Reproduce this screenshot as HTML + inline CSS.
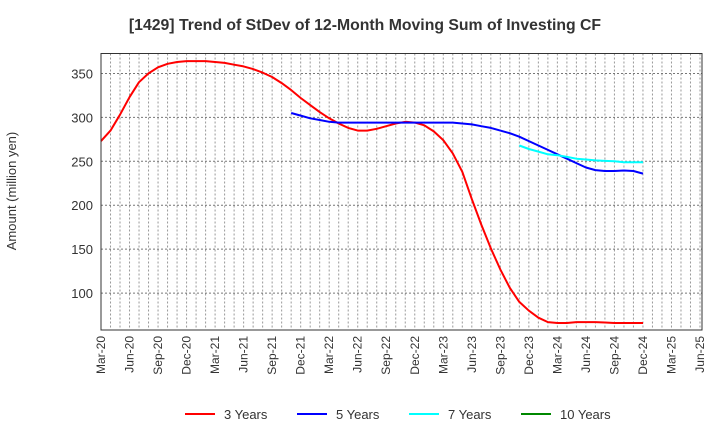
<!DOCTYPE html>
<html><head><meta charset="utf-8"><style>
body{margin:0;background:#fff;font-family:"Liberation Sans",sans-serif}
svg text{font-family:"Liberation Sans",sans-serif;fill:#333}
</style></head><body>
<svg width="720" height="440">
<text x="365" y="30" text-anchor="middle" font-size="15.8" font-weight="bold">[1429]  Trend of StDev of 12-Month Moving Sum of Investing CF</text>
<g id="grid"></g><g id="ticks"></g><g id="series"></g>
<rect x="101" y="53.5" width="601" height="276.5" fill="none" stroke="#333"/>
<text transform="translate(16,191) rotate(-90)" text-anchor="middle" font-size="13">Amount (million yen)</text>
<g id="legend"></g>
</svg>
<script>
const xLabels=["Mar-20","Jun-20","Sep-20","Dec-20","Mar-21","Jun-21","Sep-21","Dec-21","Mar-22","Jun-22","Sep-22","Dec-22","Mar-23","Jun-23","Sep-23","Dec-23","Mar-24","Jun-24","Sep-24","Dec-24","Mar-25","Jun-25"];
const yTicks=[100,150,200,250,300,350];
const y3=[273,285,303,323,340,350,357,361,363,364,364,364,363,362,360,358,355,351,346,339,331,322,314,306,299,293,288,285,285,287,290,293,295,294,291,284,274,259,238,207,178,151,127,106,90,80,72,67,66,66,67,67,67,66.5,66,66,66,66];
const y5Start=20;
const y5=[305,302,299,297,295,294,294,294,294,294,294,294,294,294,294,294,294,294,293,292,290,288,285,282,278,273,268,263,258,253,248,243,240,239,239,239.5,239,236];
const y7Start=44;
const y7=[268,264,261,258,257,255,253,252,251,250.5,250,249,249,249];
const y10=[];
const NS="http://www.w3.org/2000/svg";
const L=101,R=700,T=53.5,B=330,yMin=58,yMax=372.7;
const X=i=>L+(R-L)*i/63;
const Y=v=>B-(v-yMin)/(yMax-yMin)*(B-T);
function mk(tag,attrs,parent){const e=document.createElementNS(NS,tag);for(const k in attrs)e.setAttribute(k,attrs[k]);document.getElementById(parent).appendChild(e);return e;}
for(let m=0;m<=64;m++){const x=X(m);if(x>702)break;
const g=mk("line",{x1:x,x2:x,y1:T,y2:B,stroke:"#999","stroke-dasharray":"2,2","stroke-width":1},"grid");

}
yTicks.forEach(v=>{const g=mk("line",{x1:L,x2:702,y1:Y(v),y2:Y(v),stroke:"#777","stroke-dasharray":"2,2"},"grid");


const t=mk("text",{x:93,y:Y(v)+5,"text-anchor":"end","font-size":13},"ticks");t.textContent=v;

});
xLabels.forEach((s,i)=>{const x=X(i*3);const t=mk("text",{transform:`translate(${x+4},${336}) rotate(-90)`,"text-anchor":"end","font-size":12},"ticks");t.textContent=s;

});
function line(data,start,color,name){if(!data.length)return;const d=data.map((v,i)=>(i?"L":"M")+X(start+i).toFixed(1)+","+Y(v).toFixed(1)).join("");
const p=mk("path",{d:d,fill:"none",stroke:color,"stroke-width":2,"stroke-linejoin":"round"},"series");

}
line(y3,0,"#f00","line-3-years");line(y5,y5Start,"#00f","line-5-years");line(y7,y7Start,"#0ff","line-7-years");line(y10,0,"#080","line-10-years");
[["3 Years","#f00",185],["5 Years","#00f",297],["7 Years","#0ff",409],["10 Years","#080",521]].forEach(([n,c,x])=>{
const l=mk("line",{x1:x,x2:x+30,y1:414,y2:414,stroke:c,"stroke-width":2},"legend");


const t=mk("text",{x:x+39,y:419,"font-size":13},"legend");t.textContent=n;

});
</script>
</body></html>
